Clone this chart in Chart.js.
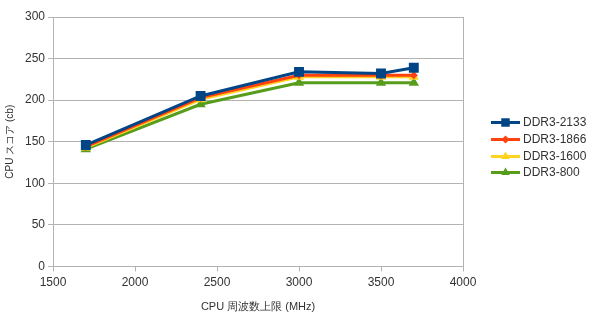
<!DOCTYPE html>
<html><head><meta charset="utf-8">
<script src="https://cdn.jsdelivr.net/npm/chart.js@4/dist/chart.umd.min.js"></script>
<style>html,body{margin:0;padding:0;background:#fff}#wrap{width:596px;height:324px}</style>
</head><body><div id="wrap"><canvas id="c" width="596" height="324"></canvas></div>
<script>
const freqs = [1700, 2400, 3000, 3500, 3700];
const ddr2133 = [146, 205, 234, 232, 239];
const ddr1866 = [144, 203, 230, 230, 230];
const ddr1600 = [143, 201, 228, 228, 228];
const ddr800 = [141, 195, 221, 221, 221];
const seriesNames = ['DDR3-2133', 'DDR3-1866', 'DDR3-1600', 'DDR3-800'];
const xTitle = 'CPU 周波数上限 (MHz)';
const yTitle = 'CPU スコア (cb)';

const colors = ['#004586', '#ff420e', '#ffd320', '#579d1c'];
const styles = ['rect', 'rectRot', 'triangle', 'triangle'];
const radii = [7, 4, 6, 6];
const values = [ddr2133, ddr1866, ddr1600, ddr800];

const datasets = seriesNames.map((n,i)=>({
  label: n,
  data: freqs.map((f,j)=>({x:f, y:values[i][j]})),
  borderColor: colors[i],
  backgroundColor: colors[i],
  borderWidth: 3,
  pointStyle: styles[i],
  pointRadius: radii[i],
  pointHoverRadius: radii[i],
  pointBorderWidth: 0,
  tension: 0
}));

const rightBorder = {
  id: 'rightBorder',
  beforeDatasetsDraw(chart){
    const {ctx, chartArea:a} = chart;
    ctx.save(); ctx.strokeStyle = '#b3b3b3'; ctx.lineWidth = 1;
    ctx.beginPath(); ctx.moveTo(Math.round(a.right)+0.5, a.top); ctx.lineTo(Math.round(a.right)+0.5, a.bottom); ctx.stroke();
    ctx.restore();
  }
};

const customLegend = {
  id: 'customLegend',
  afterDraw(chart){
    const ctx = chart.ctx;
    const x0 = 491, y0 = 122, step = 16.8;
    const lr = [6, 4, 5, 5];
    ctx.save();
    chart.data.datasets.forEach((d,i)=>{
      const y = Math.round(y0 + i*step);
      ctx.strokeStyle = colors[i]; ctx.lineWidth = 3;
      ctx.beginPath(); ctx.moveTo(x0, y+0.5); ctx.lineTo(x0+29, y+0.5); ctx.stroke();
      ctx.fillStyle = colors[i];
      Chart.helpers.drawPoint(ctx, {pointStyle: styles[i], rotation: 0, borderWidth: 0, radius: lr[i]}, x0+14.5, y+0.5);
      ctx.fillStyle = '#333';
      ctx.font = '12px "Liberation Sans"';
      ctx.textBaseline = 'middle';
      ctx.textAlign = 'left';
      ctx.fillText(d.label, x0+32, y+1);
    });
    ctx.restore();
  }
};

new Chart(document.getElementById('c'), {
  type: 'line',
  data: { datasets },
  plugins: [rightBorder, customLegend],
  options: {
    responsive: false,
    animation: false,
    layout: { padding: { left: 4, right: 133, top: 17, bottom: 10 } },
    plugins: {
      tooltip: { enabled: false },
      legend: { display: false }
    },
    scales: {
      x: {
        type: 'linear', min: 1500, max: 4000,
        ticks: { stepSize: 500, color: '#333', font: { family: 'Liberation Sans', size: 12 }, padding: 4, callback: v => String(v) },
        grid: { drawOnChartArea: false, color: '#b3b3b3', tickLength: 5 },
        border: { color: '#b3b3b3' },
        title: { display: true, text: xTitle, color: '#333', font: { family: 'Liberation Sans', size: 11 }, padding: { top: 7, bottom: 0 } }
      },
      y: {
        min: 0, max: 300,
        ticks: { stepSize: 50, color: '#333', font: { family: 'Liberation Sans', size: 12 }, padding: 3, callback: v => String(v) },
        grid: { color: '#b3b3b3', tickLength: 5 },
        border: { color: '#b3b3b3' },
        title: { display: true, text: yTitle, color: '#333', font: { family: 'Liberation Sans', size: 10 }, padding: { top: 0, bottom: 6 } }
      }
    }
  }
});
</script></body></html>
